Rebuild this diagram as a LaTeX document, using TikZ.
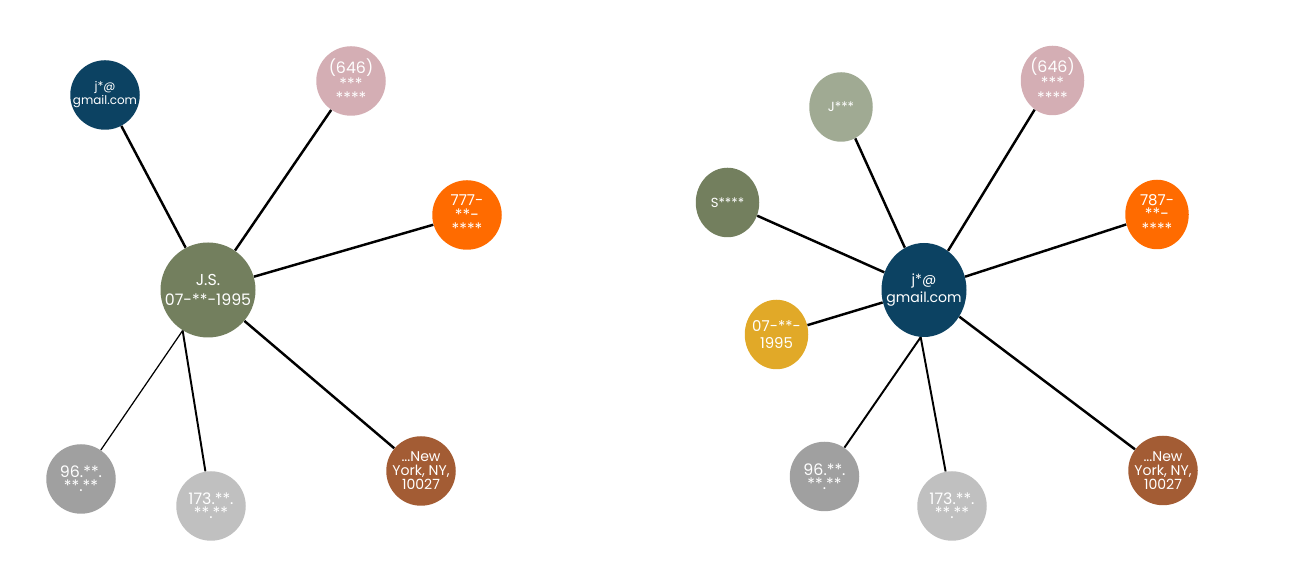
\documentclass[tikz,border=0pt]{standalone}
\usepackage{fontspec}
\setmainfont{Poppins}
\usepackage{xcolor}
\usepackage{tikz}
\usetikzlibrary{shapes.geometric}

\definecolor{navy}{HTML}{0C4262}
\definecolor{olive}{HTML}{737F5E}
\definecolor{sage}{HTML}{A0AA93}
\definecolor{rose}{HTML}{D4AEB4}
\definecolor{tangerine}{HTML}{FF6B00}
\definecolor{rust}{HTML}{A35C34}
\definecolor{gold}{HTML}{E1A928}
\definecolor{ipdark}{HTML}{A0A0A0}
\definecolor{iplight}{HTML}{C0C0C0}

\newcommand{\masked}{\fontsize{9}{9.5}\selectfont}

\begin{document}
\begin{tikzpicture}[
    item/.style={circle,minimum size=1.39cm,inner sep=-8pt,text=white,align=center,font=\fontsize{7.5}{8.2}\selectfont},
    oval/.style={ellipse,minimum width=1.27cm,minimum height=1.39cm,inner sep=-8pt,text=white,align=center,font=\fontsize{7.5}{8.2}\selectfont},
    hub/.style={item,minimum size=1.9cm,font=\fontsize{9}{11}\selectfont},
    link/.style={line width=1.4pt}]
    \useasboundingbox (0,0) rectangle (25.8,11.76);

    % Left: centred on the name
    \node[hub,fill=olive] (js) at (4.16,5.96) {J.S.\\07-**-1995};
    \node[item,fill=navy,font=\fontsize{6.8}{8}\selectfont] (mailL) at (2.10,9.86) {j*@\\gmail.com};
    \node[item,fill=rose] (telL) at (7.02,10.14) {{\fontsize{9}{9.5}\selectfont(646)}\\{\masked***}\\{\masked****}};
    \node[item,fill=tangerine] (cellL) at (9.34,7.46) {{\fontsize{8.5}{9}\selectfont777-}\\{\masked**-}\\{\masked****}};
    \node[item,fill=ipdark] (ipaL) at (1.62,2.18) {{\fontsize{9}{9.5}\selectfont96.**.}\\{\masked**.**}};
    \node[item,fill=iplight] (ipbL) at (4.22,1.64) {{\fontsize{9}{9.5}\selectfont173.**.}\\{\masked**.**}};
    \node[item,fill=rust,font=\fontsize{8}{8}\selectfont] (addrL) at (8.42,2.34) {...New\\York, NY,\\10027};

    \draw[link] (js) -- (mailL);
    \draw[link] (js) -- (telL);
    \draw[link] (js) -- (cellL);
    \draw[line width=0.7pt] (js.238) -- (ipaL);
    \draw[line width=1.1pt] (js.238) -- (ipbL);
    \draw[link] (js) -- (addrL);

    % Right: centred on the email
    \node[oval,fill=navy,minimum width=1.7cm,minimum height=1.88cm,font=\fontsize{8}{10}\selectfont] (mailR) at (18.48,5.96) {j*@\\gmail.com};
    \node[oval,fill=sage] (first) at (16.82,9.62) {J***};
    \node[oval,fill=olive] (last) at (14.55,7.71) {S****};
    \node[oval,fill=rose] (telR) at (21.05,10.15) {{\fontsize{9}{9.5}\selectfont(646)}\\{\masked***}\\{\masked****}};
    \node[oval,fill=tangerine] (cellR) at (23.14,7.47) {{\fontsize{8.5}{9}\selectfont787-}\\{\masked**-}\\{\masked****}};
    \node[oval,fill=gold,font=\fontsize{8.5}{9.5}\selectfont] (dob) at (15.53,5.07) {07-**-\\1995};
    \node[item,fill=ipdark] (ipaR) at (16.49,2.23) {{\fontsize{9}{9.5}\selectfont96.**.}\\{\masked**.**}};
    \node[item,fill=iplight] (ipbR) at (19.04,1.64) {{\fontsize{9}{9.5}\selectfont173.**.}\\{\masked**.**}};
    \node[item,fill=rust,font=\fontsize{8}{8}\selectfont] (addrR) at (23.26,2.35) {...New\\York, NY,\\10027};

    \draw[link] (mailR) -- (first);
    \draw[link] (mailR) -- (last);
    \draw[link] (mailR) -- (telR);
    \draw[link] (mailR) -- (cellR);
    \draw[link] (mailR) -- (dob);
    \draw[line width=1.1pt] (mailR.266) -- (ipaR);
    \draw[line width=1.1pt] (mailR.266) -- (ipbR);
    \draw[link] (mailR) -- (addrR);
\end{tikzpicture}
\end{document}
